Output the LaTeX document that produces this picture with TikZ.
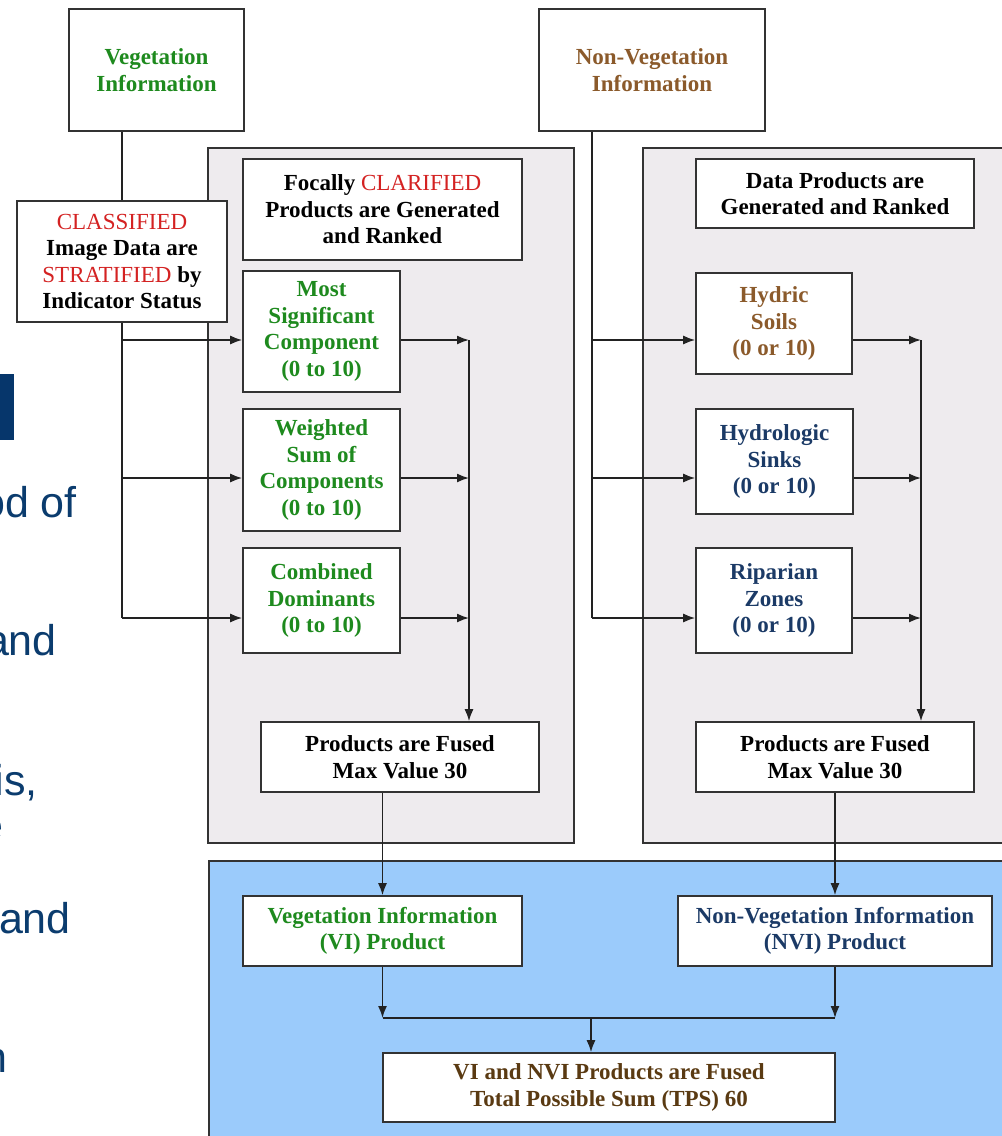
\documentclass[tikz,border=0pt]{standalone}
\usepackage{fontspec}
\setmainfont{Liberation Serif}
\newfontfamily\slidefont{Liberation Sans}
\usetikzlibrary{arrows.meta}
\definecolor{vgreen}{HTML}{1E8A1E}
\definecolor{vred}{HTML}{D42222}
\definecolor{vbrown}{HTML}{8B5A2B}
\definecolor{vnavy}{HTML}{1B3A66}
\definecolor{vdbrown}{HTML}{5A3A12}
\definecolor{boxline}{HTML}{333333}
\definecolor{lineclr}{HTML}{222222}
\definecolor{panelgrey}{HTML}{EEEBEE}
\definecolor{panelblue}{HTML}{9BCBFB}
\definecolor{slideblue}{HTML}{0B3C6E}
\definecolor{slidebar}{HTML}{06366B}
\begin{document}
\begin{tikzpicture}[x=1pt,y=-1pt,
  box/.style={draw=boxline, line width=1.6pt, fill=white, align=center, inner sep=0pt,
    font=\bfseries\fontsize{23}{26.5}\selectfont, text=black},
  panel/.style={draw=boxline, line width=1.6pt},
  conn/.style={draw=lineclr, line width=1.6pt},
  arr/.style={conn, -{Latex[length=12pt,width=9pt]}},
  slidetxt/.style={anchor=base east, inner sep=0pt, text=slideblue,
    font=\slidefont\fontsize{43}{50}\selectfont}]
\useasboundingbox (0,0) rectangle (1002,1136);
\clip (0,0) rectangle (1002,1136);
\fill[white] (0,0) rectangle (1002,1136);

% background slide fragments
\fill[slidebar] (0,374) rectangle (14,440);
\node[slidetxt] (s1) at (77,517) {od of};
\node[slidetxt] (s2) at (57,655) {and};
\node[slidetxt] (s3) at (38,795) {is,};
\node[slidetxt] (s4) at (4,840) {e};
\node[slidetxt] (s5) at (71,933) {and};
\node[slidetxt] (s6) at (8,1072) {n};

% panels
\filldraw[panel, fill=panelgrey] (208,148) rectangle (574,843);
\filldraw[panel, fill=panelgrey] (643,148) rectangle (1012,843);
\filldraw[panel, fill=panelblue] (209,861) rectangle (1012,1146);

% nodes
\node[box, minimum width=175pt, minimum height=122pt] (veg) at (156.5,70)
  {\color{vgreen}Vegetation\\\color{vgreen}Information};
\node[box, minimum width=226pt, minimum height=122pt] (nveg) at (652,70)
  {\color{vbrown}Non-Vegetation\\\color{vbrown}Information};
\node[box, minimum width=210pt, minimum height=121pt] (cls) at (122,261.5)
  {{\mdseries\color{vred}CLASSIFIED}\\Image Data are\\{\mdseries\color{vred}STRATIFIED} by\\Indicator Status};
\node[box, minimum width=279pt, minimum height=101pt] (foc) at (382.5,209.5)
  {Focally {\mdseries\color{vred}CLARIFIED}\\Products are Generated\\and Ranked};
\node[box, minimum width=157pt, minimum height=121pt] (msc) at (321.5,331.5)
  {\color{vgreen}Most\\\color{vgreen}Significant\\\color{vgreen}Component\\\color{vgreen}(0 to 10)};
\node[box, minimum width=157pt, minimum height=122pt] (wsc) at (321.5,470)
  {\color{vgreen}Weighted\\\color{vgreen}Sum of\\\color{vgreen}Components\\\color{vgreen}(0 to 10)};
\node[box, minimum width=157pt, minimum height=105pt] (cdo) at (321.5,600.5)
  {\color{vgreen}Combined\\\color{vgreen}Dominants\\\color{vgreen}(0 to 10)};
\node[box, minimum width=278pt, minimum height=70pt] (fusL) at (400,757)
  {Products are Fused\\Max Value 30};
\node[box, minimum width=278pt, minimum height=69pt] (dp) at (835,193.5)
  {Data Products are\\Generated and Ranked};
\node[box, minimum width=156pt, minimum height=101pt] (hyd) at (774,323.5)
  {\color{vbrown}Hydric\\\color{vbrown}Soils\\\color{vbrown}(0 or 10)};
\node[box, minimum width=157pt, minimum height=105pt] (hsk) at (774.5,461.5)
  {\color{vnavy}Hydrologic\\\color{vnavy}Sinks\\\color{vnavy}(0 or 10)};
\node[box, minimum width=156pt, minimum height=105pt] (rip) at (774,600.5)
  {\color{vnavy}Riparian\\\color{vnavy}Zones\\\color{vnavy}(0 or 10)};
\node[box, minimum width=278pt, minimum height=70pt] (fusR) at (835,757)
  {Products are Fused\\Max Value 30};
\node[box, minimum width=279pt, minimum height=70pt] (vi) at (382.5,931)
  {\color{vgreen}Vegetation Information\\\color{vgreen}(VI) Product};
\node[box, minimum width=314pt, minimum height=70pt] (nvi) at (835,931)
  {\color{vnavy}Non-Vegetation Information\\\color{vnavy}(NVI) Product};
\node[box, minimum width=452pt, minimum height=69pt] (tps) at (609,1087.5)
  {\color{vdbrown}VI and NVI Products are Fused\\\color{vdbrown}Total Possible Sum (TPS) 60};

% helper coordinates
\coordinate (lx) at (122,0);
\coordinate (lc) at (469,0);
\coordinate (rx) at (592,0);
\coordinate (rc) at (921,0);
\coordinate (a1) at (0,340);
\coordinate (a2) at (0,478);
\coordinate (a3) at (0,618);
\coordinate (jn) at (591,1018);

% left trunk
\draw[conn] (lx |- veg.south) -- (lx |- cls.north);
\draw[conn] (lx |- cls.south) -- (lx |- a3);
\draw[arr] (lx |- a1) -- (msc.west |- a1);
\draw[arr] (lx |- a2) -- (wsc.west |- a2);
\draw[arr] (lx |- a3) -- (cdo.west |- a3);
\draw[arr] (msc.east |- a1) -- (lc |- a1);
\draw[arr] (wsc.east |- a2) -- (lc |- a2);
\draw[arr] (cdo.east |- a3) -- (lc |- a3);
\draw[arr] (lc |- a1) -- (lc |- fusL.north);

% right trunk
\draw[conn] (rx |- nveg.south) -- (rx |- a3);
\draw[arr] (rx |- a1) -- (hyd.west |- a1);
\draw[arr] (rx |- a2) -- (hsk.west |- a2);
\draw[arr] (rx |- a3) -- (rip.west |- a3);
\draw[arr] (hyd.east |- a1) -- (rc |- a1);
\draw[arr] (hsk.east |- a2) -- (rc |- a2);
\draw[arr] (rip.east |- a3) -- (rc |- a3);
\draw[arr] (rc |- a1) -- (rc |- fusR.north);

% bottom section
\draw[arr] (vi.north |- fusL.south) -- (vi.north);
\draw[arr] (fusR.south) -- (nvi.north);
\draw[arr] (vi.south) -- (vi.south |- jn);
\draw[arr] (nvi.south) -- (nvi.south |- jn);
\draw[conn] (vi.south |- jn) -- (nvi.south |- jn);
\draw[arr] (jn) -- (jn |- tps.north);
\end{tikzpicture}
\end{document}
